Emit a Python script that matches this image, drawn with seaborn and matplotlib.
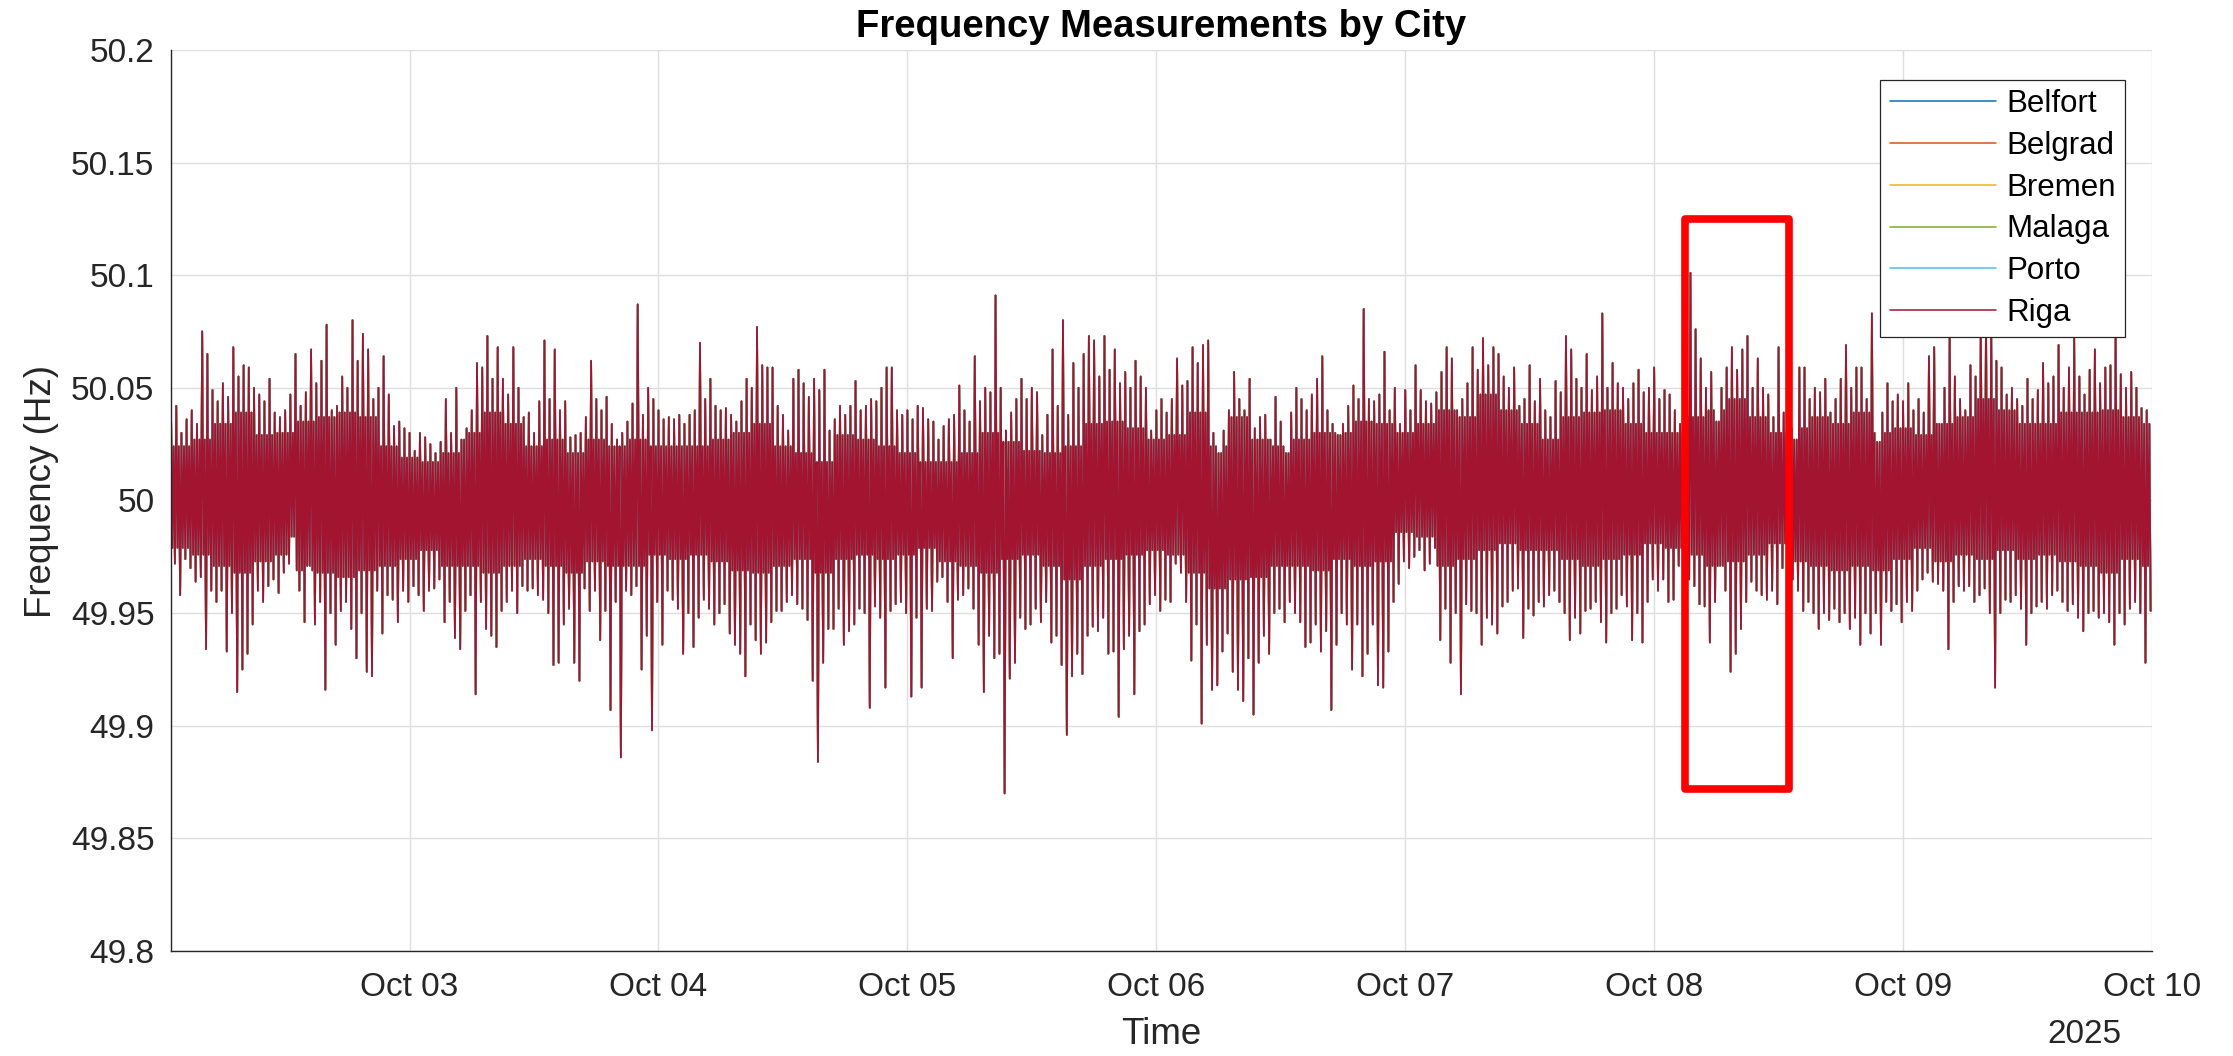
import matplotlib
matplotlib.use("Agg")
import matplotlib.pyplot as plt
from matplotlib.patches import Rectangle
import matplotlib.dates as mdates
import numpy as np
import pandas as pd
import seaborn as sns

# ---------------------------------------------------------------------------
# Data
# ---------------------------------------------------------------------------
cities = ["Belfort", "Belgrad", "Bremen", "Malaga", "Porto", "Riga"]
city_colors = ["#0072BD", "#D95319", "#EDB120", "#77AC30", "#4DBEEE", "#A2142F"]

series_start = "2025-10-02 01:00"
series_end = "2025-10-10 00:00"
window_minutes = 30
band_windows = 4  # the typical swing band is summarised over 2-hour blocks

# Highest frequency deviation from 50 Hz in each 30-minute window (mHz)
hi_dev_mhz = [
    38, 42, 30, 36, 40, 34, 75, 65, 49, 44, 52, 46, 68, 55, 60, 59, 50, 47, 44, 54, 39, 37, 40, 47,
    65, 42, 48, 67, 52, 62, 78, 40, 42, 55, 50, 80, 62, 74, 67, 45, 50, 64, 47, 33, 35, 32, 30, 22,
    30, 28, 25, 21, 26, 45, 30, 50, 27, 32, 40, 61, 59, 73, 54, 68, 54, 47, 68, 50, 37, 39, 30, 44,
    71, 45, 67, 40, 44, 28, 29, 30, 37, 62, 45, 40, 46, 34, 27, 30, 35, 43, 87, 38, 50, 45, 40, 36,
    37, 36, 38, 34, 38, 40, 70, 45, 54, 42, 40, 41, 38, 35, 44, 54, 50, 77, 60, 59, 59, 42, 38, 31,
    54, 58, 52, 46, 54, 49, 58, 31, 36, 42, 38, 42, 53, 40, 42, 45, 44, 50, 59, 59, 40, 38, 40, 36,
    42, 41, 36, 35, 27, 33, 36, 38, 51, 40, 35, 64, 44, 50, 48, 91, 50, 31, 39, 45, 54, 45, 50, 48,
    29, 38, 67, 42, 80, 38, 61, 50, 65, 73, 71, 55, 73, 58, 67, 52, 57, 50, 62, 55, 50, 31, 40, 45,
    39, 45, 63, 51, 53, 68, 61, 69, 71, 30, 21, 31, 40, 57, 45, 40, 54, 32, 37, 38, 27, 46, 35, 21,
    39, 50, 45, 40, 47, 54, 64, 40, 34, 29, 34, 42, 51, 45, 85, 45, 44, 47, 66, 40, 50, 34, 49, 40,
    60, 49, 44, 43, 48, 57, 68, 63, 40, 45, 52, 68, 58, 72, 60, 68, 65, 55, 50, 59, 42, 45, 60, 44,
    54, 40, 37, 53, 48, 73, 67, 54, 50, 65, 49, 55, 83, 50, 61, 52, 50, 45, 52, 58, 48, 50, 59, 45,
    49, 47, 40, 34, 60, 101, 76, 63, 50, 57, 35, 50, 59, 68, 58, 67, 73, 50, 63, 50, 47, 37, 68, 39,
    40, 27, 59, 59, 45, 50, 48, 54, 39, 45, 54, 69, 50, 59, 59, 45, 83, 26, 39, 52, 44, 47, 44, 52,
    40, 45, 39, 64, 68, 34, 50, 75, 55, 45, 40, 60, 55, 78, 80, 76, 62, 59, 47, 50, 45, 42, 54, 45,
    49, 61, 52, 55, 69, 50, 59, 72, 55, 47, 58, 67, 52, 59, 60, 75, 56, 50, 57, 50, 41, 40,
]

# Lowest frequency deviation from 50 Hz in each 30-minute window (mHz)
lo_dev_mhz = [
    -28, -42, -26, -30, -36, -34, -66, -40, -45, -40, -67, -50, -85, -75, -68, -55, -40, -45, -38, -35, -41, -32, -28, -16,
    -40, -54, -29, -55, -45, -84, -50, -64, -49, -45, -57, -70, -50, -76, -78, -40, -59, -42, -44, -54, -40, -45, -38, -42,
    -49, -40, -39, -35, -54, -45, -61, -66, -49, -42, -86, -45, -57, -60, -65, -49, -45, -40, -50, -38, -40, -39, -42, -44,
    -50, -73, -72, -55, -48, -72, -80, -39, -49, -40, -62, -49, -93, -45, -114, -40, -42, -38, -75, -60, -102, -45, -64, -40,
    -44, -48, -68, -50, -65, -52, -44, -48, -55, -50, -46, -59, -64, -68, -78, -55, -62, -68, -63, -54, -49, -49, -45, -42,
    -46, -48, -53, -80, -116, -72, -57, -57, -48, -64, -58, -55, -48, -50, -92, -47, -52, -83, -49, -46, -45, -50, -87, -52,
    -83, -48, -49, -36, -34, -45, -70, -44, -42, -39, -48, -64, -85, -60, -70, -68, -130, -79, -72, -52, -57, -55, -48, -54,
    -45, -63, -60, -73, -104, -78, -68, -77, -60, -56, -58, -52, -68, -67, -96, -66, -60, -86, -58, -55, -46, -42, -49, -44,
    -45, -28, -32, -45, -71, -55, -99, -64, -84, -82, -67, -59, -76, -84, -89, -70, -95, -72, -60, -68, -50, -48, -54, -45,
    -50, -54, -65, -63, -55, -67, -58, -93, -64, -50, -55, -75, -55, -78, -68, -55, -82, -83, -67, -45, -37, -27, -30, -25,
    -22, -31, -28, -21, -62, -48, -72, -50, -86, -46, -49, -50, -64, -52, -55, -59, -47, -45, -40, -39, -61, -48, -51, -45,
    -47, -42, -40, -45, -50, -62, -52, -59, -49, -48, -45, -54, -63, -50, -48, -42, -47, -62, -50, -63, -45, -35, -40, -35,
    -45, -44, -29, -27, -35, -38, -46, -47, -63, -45, -29, -40, -76, -68, -57, -45, -36, -40, -42, -44, -40, -46, -30, -22,
    -35, -40, -49, -45, -50, -57, -50, -53, -48, -54, -50, -57, -52, -64, -50, -59, -50, -64, -45, -49, -46, -54, -45, -49,
    -40, -35, -32, -36, -37, -40, -66, -45, -38, -40, -38, -45, -42, -39, -50, -83, -50, -44, -45, -42, -48, -64, -50, -47,
    -45, -48, -42, -40, -45, -49, -46, -52, -58, -50, -49, -52, -50, -54, -64, -50, -55, -48, -45, -50, -72, -49,
]

# Upper / lower edge of the typical (dense) swing band per 2-hour block (mHz)
band_hi_mhz = [
    24, 27, 34, 39, 29, 30, 35, 37, 39, 37, 24, 19, 17, 21, 30, 39, 34, 24, 27, 21, 27, 24, 27, 24,
    24, 24, 27, 30, 34, 24, 21, 17, 29, 27, 24, 21, 17, 17, 21, 30, 26, 22, 21, 24, 34, 35, 32, 27,
    29, 39, 24, 37, 27, 24, 27, 30, 30, 35, 34, 30, 34, 40, 37, 47, 40, 34, 27, 37, 39, 40, 34, 30,
    30, 37, 40, 45, 37, 30, 32, 37, 34, 39, 30, 32, 29, 34, 37, 45, 40, 34, 34, 39, 39, 40, 37, 34,
]
band_lo_mhz = [
    -21, -24, -29, -32, -27, -24, -31, -32, -34, -31, -29, -26, -22, -29, -29, -32, -29, -26, -29, -32, -27, -29, -29, -24,
    -26, -24, -27, -31, -32, -29, -26, -32, -26, -24, -26, -24, -21, -27, -29, -32, -26, -24, -29, -35, -29, -26, -24, -22,
    -24, -32, -39, -35, -34, -29, -29, -31, -26, -29, -27, -14, -16, -29, -26, -22, -19, -22, -22, -26, -29, -26, -24, -19,
    -21, -24, -29, -27, -24, -19, -27, -29, -31, -29, -31, -26, -21, -27, -24, -26, -22, -26, -24, -27, -29, -32, -26, -29,
]

y_ticks = [49.8, 49.85, 49.9, 49.95, 50.0, 50.05, 50.1, 50.15, 50.2]
y_tick_labels = ["49.8", "49.85", "49.9", "49.95", "50", "50.05", "50.1", "50.15", "50.2"]
x_tick_dates = ["2025-10-03", "2025-10-04", "2025-10-05", "2025-10-06",
                "2025-10-07", "2025-10-08", "2025-10-09", "2025-10-10"]
x_tick_labels = ["Oct 03", "Oct 04", "Oct 05", "Oct 06", "Oct 07", "Oct 08", "Oct 09", "Oct 10"]

# Highlighted event window
highlight_start = "2025-10-08 03:00"
highlight_end = "2025-10-08 13:00"
highlight_low = 49.872
highlight_high = 50.125

# ---------------------------------------------------------------------------
# Long-form table: each window gives its peak, a band trough, a band crest
# and its trough, in that order
# ---------------------------------------------------------------------------
t0 = pd.Timestamp(series_start)
window = pd.Timedelta(minutes=window_minutes)
step = window / 4
times, devs = [], []
for k in range(len(hi_dev_mhz)):
    b = k // band_windows
    hi, lo = hi_dev_mhz[k], lo_dev_mhz[k]
    b_hi = min(band_hi_mhz[b], hi)
    b_lo = max(band_lo_mhz[b], lo)
    for j, v in enumerate((hi, b_lo, b_hi, lo)):
        times.append(t0 + k * window + j * step)
        devs.append(v)
freq_hz = 50.0 + np.asarray(devs) / 1000.0

frames = []
for city in cities:
    # all stations sit on the same synchronous grid, so their traces coincide
    frames.append(pd.DataFrame({"time": times, "freq": freq_hz, "city": city}))
df = pd.concat(frames, ignore_index=True)

# ---------------------------------------------------------------------------
# Plot
# ---------------------------------------------------------------------------
sns.set_theme(style="white")
plt.rcParams["font.family"] = ["Liberation Sans", "DejaVu Sans"]
ink = "#262626"

fig = plt.figure(figsize=(22.33, 10.56), dpi=100)
ax = fig.add_axes([0.0766, 0.0994, 0.8871, 0.8533])

sns.lineplot(data=df, x="time", y="freq", hue="city", hue_order=cities,
             palette=city_colors, estimator=None, sort=False,
             linewidth=1.3, ax=ax)

ax.set_xlim(pd.Timestamp(series_start), pd.Timestamp(series_end))
ax.set_ylim(y_ticks[0], y_ticks[-1])
ax.set_yticks(y_ticks)
ax.set_yticklabels(y_tick_labels)
ax.set_xticks(pd.to_datetime(x_tick_dates))
ax.set_xticklabels(x_tick_labels)

ax.grid(True, color="#DEDEDE", linewidth=1.0)
ax.set_axisbelow(True)
for side in ("top", "right"):
    ax.spines[side].set_visible(False)
for side in ("left", "bottom"):
    ax.spines[side].set_color(ink)
    ax.spines[side].set_linewidth(1.0)
ax.tick_params(axis="both", direction="in", length=13, width=1.0, color=ink,
               labelsize=24, labelcolor=ink)
ax.tick_params(axis="x", pad=15)
ax.tick_params(axis="y", pad=12)

ax.set_title("Frequency Measurements by City", fontsize=27.5, fontweight="bold",
             color="black", pad=9)
ax.set_xlabel("Time", fontsize=26.5, color=ink)
ax.set_ylabel("Frequency (Hz)", fontsize=26.5, color=ink)
ax.xaxis.set_label_coords(0.5, -0.073)
ax.yaxis.set_label_coords(-0.0565, 0.51)
ax.text(0.9657, -0.075, "2025", transform=ax.transAxes, ha="center", va="top",
        fontsize=24, color=ink)

# highlighted window
x0 = mdates.date2num(pd.Timestamp(highlight_start))
x1 = mdates.date2num(pd.Timestamp(highlight_end))
ax.add_patch(Rectangle((x0, highlight_low), x1 - x0, highlight_high - highlight_low,
                       fill=False, edgecolor="#FF0000", linewidth=5.5,
                       joinstyle="round", zorder=6))

handles, labels = ax.get_legend_handles_labels()
for h in handles:
    h.set_linewidth(1.1)
leg = ax.legend(handles, labels, loc="upper right", bbox_to_anchor=(0.9864, 0.9667),
                borderaxespad=0, fontsize=22.5, handlelength=3.4, handletextpad=0.33,
                labelspacing=0.375, borderpad=0.3, frameon=True, fancybox=False,
                framealpha=1.0, edgecolor=ink)
leg.get_frame().set_linewidth(0.9)
for t in leg.get_texts():
    t.set_color("black")

fig.savefig("out.png", dpi=100)
